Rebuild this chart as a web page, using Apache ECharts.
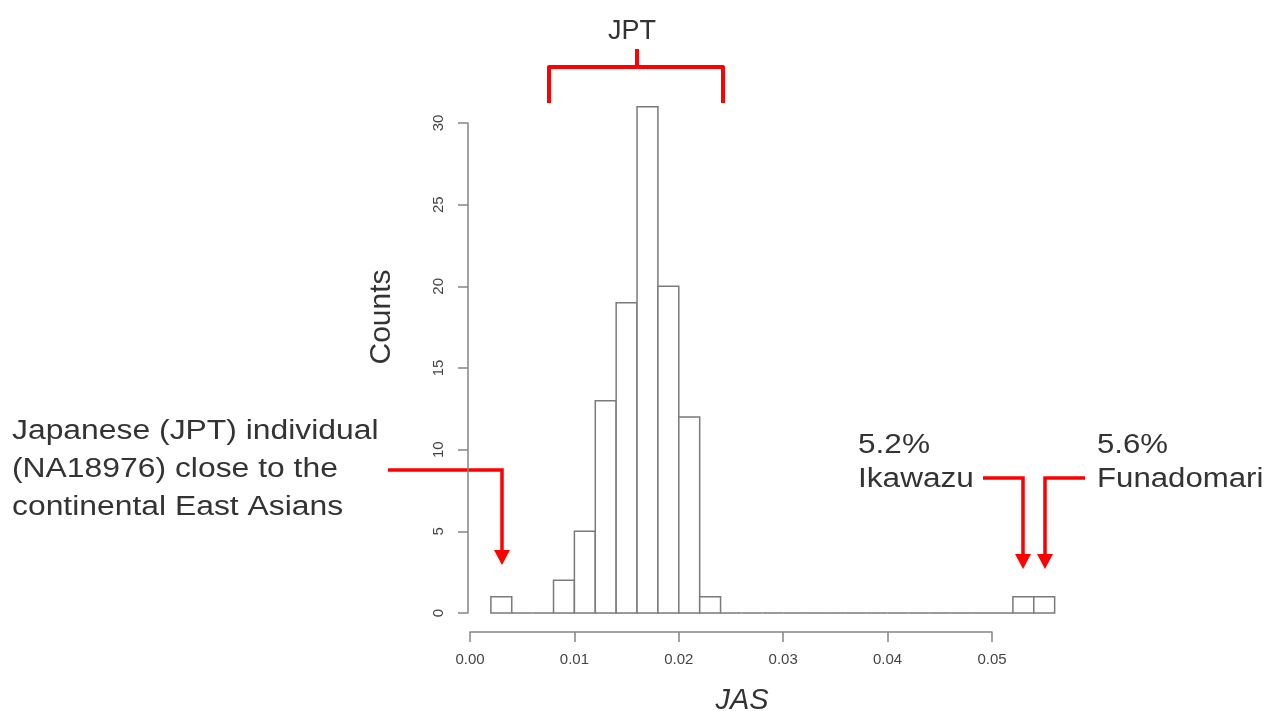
<!DOCTYPE html>
<html>
<head>
<meta charset="utf-8">
<script src="https://cdn.jsdelivr.net/npm/echarts@6/dist/echarts.min.js"></script>
<style>
  html, body { margin: 0; padding: 0; background: #fff; }
  #main { width: 1266px; height: 711px; }
</style>
</head>
<body>
<div id="main"></div>
<script>
// histogram bins (JAS) and counts
const binEdges = [0.002, 0.004, 0.006, 0.008, 0.010, 0.012, 0.014, 0.016, 0.018, 0.020,
                  0.022, 0.024, 0.026, 0.028, 0.030, 0.032, 0.034, 0.036, 0.038, 0.040,
                  0.042, 0.044, 0.046, 0.048, 0.050, 0.052, 0.054, 0.056];
const counts = [1, 0, 0, 2, 5, 13, 19, 31, 20, 12, 1,
                0, 0, 0, 0, 0, 0, 0, 0, 0, 0, 0, 0, 0, 0,
                1, 1];
const xTicks = [0.00, 0.01, 0.02, 0.03, 0.04, 0.05];
const yTicks = [0, 5, 10, 15, 20, 25, 30];

const axisGrey = '#858585';
const textGrey = '#333';
const red = '#ff0000';
const font = 'Liberation Sans, Arial, sans-serif';

const histData = counts.map(function (c, i) {
    return [binEdges[i], binEdges[i + 1], c];
});

const chart = echarts.init(document.getElementById('main'));

const option = {
    backgroundColor: '#fff',
    animation: false,
    grid: [
        // bars
        { left: 470, top: 106.67, width: 584.64, height: 506.33 },
        // y axis (R style, offset)
        { left: 468, top: 123, width: 20, height: 490 },
        // x axis (R style, offset)
        { left: 470, top: 600, width: 522, height: 32 }
    ],
    xAxis: [
        { gridIndex: 0, type: 'value', min: 0, max: binEdges[binEdges.length - 1], show: false },
        { gridIndex: 1, type: 'value', show: false },
        {
            gridIndex: 2, type: 'value', position: 'bottom',
            min: xTicks[0], max: xTicks[xTicks.length - 1], interval: 0.01,
            splitLine: { show: false },
            axisLine: { show: true, lineStyle: { color: axisGrey, width: 1.5 } },
            axisTick: { show: true, length: 10, lineStyle: { color: axisGrey, width: 1.5 } },
            axisLabel: {
                margin: 20, fontSize: 15, color: '#444', fontFamily: font,
                formatter: function (v) { return v.toFixed(2); }
            }
        }
    ],
    yAxis: [
        { gridIndex: 0, type: 'value', min: 0, max: 31, show: false },
        {
            gridIndex: 1, type: 'value', position: 'left',
            min: yTicks[0], max: yTicks[yTicks.length - 1], interval: 5,
            splitLine: { show: false },
            axisLine: { show: true, lineStyle: { color: axisGrey, width: 1.5 } },
            axisTick: { show: true, length: 10, lineStyle: { color: axisGrey, width: 1.5 } },
            axisLabel: { margin: 22, rotate: 90, fontSize: 15, color: '#444', fontFamily: font }
        },
        { gridIndex: 2, type: 'value', show: false }
    ],
    series: [{
        type: 'custom',
        xAxisIndex: 0,
        yAxisIndex: 0,
        clip: false,
        data: histData,
        encode: { x: [0, 1], y: 2 },
        renderItem: function (params, api) {
            const p0 = api.coord([api.value(0), api.value(2)]);
            const p1 = api.coord([api.value(1), 0]);
            return {
                type: 'rect',
                shape: { x: p0[0], y: p0[1], width: p1[0] - p0[0], height: p1[1] - p0[1] },
                style: { fill: '#fff', stroke: '#7a7a7a', lineWidth: 1.5 }
            };
        }
    }],
    graphic: [
        // JPT bracket
        {
            type: 'polyline',
            shape: { points: [[549, 103], [549, 67], [723, 67], [723, 103]] },
            style: { fill: null, stroke: red, lineWidth: 4, lineJoin: 'round' }
        },
        {
            type: 'line',
            shape: { x1: 637, y1: 67, x2: 637, y2: 49 },
            style: { stroke: red, lineWidth: 4 }
        },
        {
            type: 'text', x: 632, y: 32,
            style: { text: 'JPT', font: '27px ' + font, fill: textGrey, textAlign: 'center', textVerticalAlign: 'middle' }
        },
        // left note + arrow
        {
            type: 'text', x: 12, y: 470, scaleX: 1.18,
            style: {
                text: 'Japanese (JPT) individual\n(NA18976) close to the\ncontinental East Asians',
                font: '27px ' + font, lineHeight: 38, fill: textGrey,
                textAlign: 'left', textVerticalAlign: 'middle'
            }
        },
        {
            type: 'polyline',
            shape: { points: [[388, 470], [502, 470], [502, 552]] },
            style: { stroke: red, lineWidth: 3.5, fill: null }
        },
        {
            type: 'polygon',
            shape: { points: [[494, 550], [510, 550], [502, 565]] },
            style: { fill: red }
        },
        // Ikawazu
        {
            type: 'text', x: 858, y: 463, scaleX: 1.17,
            style: {
                text: '5.2%\nIkawazu', font: '27px ' + font, lineHeight: 34, fill: textGrey,
                textAlign: 'left', textVerticalAlign: 'middle'
            }
        },
        {
            type: 'polyline',
            shape: { points: [[983, 478], [1023, 478], [1023, 556]] },
            style: { stroke: red, lineWidth: 3.5, fill: null }
        },
        {
            type: 'polygon',
            shape: { points: [[1015, 554], [1031, 554], [1023, 569]] },
            style: { fill: red }
        },
        // Funadomari
        {
            type: 'text', x: 1097, y: 463, scaleX: 1.155,
            style: {
                text: '5.6%\nFunadomari', font: '27px ' + font, lineHeight: 34, fill: textGrey,
                textAlign: 'left', textVerticalAlign: 'middle'
            }
        },
        {
            type: 'polyline',
            shape: { points: [[1085, 478], [1045, 478], [1045, 556]] },
            style: { stroke: red, lineWidth: 3.5, fill: null }
        },
        {
            type: 'polygon',
            shape: { points: [[1037, 554], [1053, 554], [1045, 569]] },
            style: { fill: red }
        },
        // axis titles
        {
            type: 'text', x: 382, y: 317, rotation: Math.PI / 2,
            style: { text: 'Counts', font: '30px ' + font, fill: textGrey, textAlign: 'center', textVerticalAlign: 'middle' }
        },
        {
            type: 'text', x: 742, y: 701,
            style: { text: 'JAS', font: 'italic 29px ' + font, fill: textGrey, textAlign: 'center', textVerticalAlign: 'middle' }
        }
    ]
};

chart.setOption(option);
</script>
</body>
</html>
